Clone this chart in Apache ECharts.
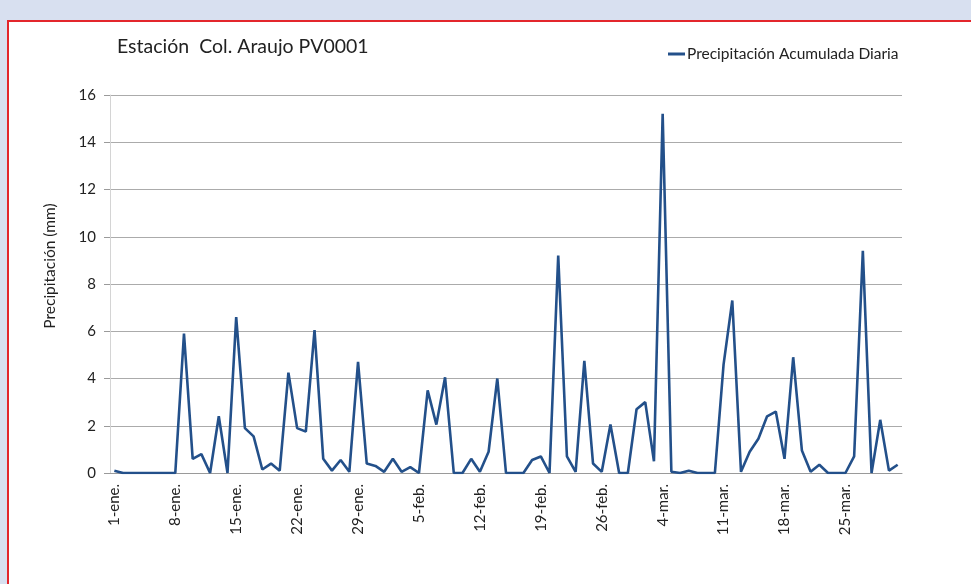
<!DOCTYPE html>
<html>
<head>
<meta charset="utf-8">
<title>Estación Col. Araujo PV0001</title>
<script src="https://cdn.jsdelivr.net/npm/echarts@6/dist/echarts.min.js"></script>
<style>
  html, body { margin: 0; padding: 0; background: #d8e0f0; }
  #frame {
    position: absolute; left: 7px; top: 20px; width: 964px; height: 564px;
    background: #fff; border-left: 2px solid #e3262c; border-top: 2px solid #e3262c;
  }
  #main { position: absolute; left: 0; top: 0; width: 971px; height: 584px; }
</style>
</head>
<body>
<div id="frame"></div>
<div id="main"></div>
<script>
// meses y días (2012, bisiesto)
var monthNames = ['ene.', 'feb.', 'mar.'];
var monthDays = [31, 29, 31];

// precipitación diaria (mm), 1-ene a 31-mar
var rainJan = [0.1, 0, 0, 0, 0, 0, 0, 0, 5.9, 0.6, 0.8, 0, 2.4, 0, 6.6, 1.9,
               1.55, 0.15, 0.4, 0.1, 4.25, 1.9, 1.75, 6.05, 0.6, 0.1, 0.55, 0.05, 4.7, 0.4, 0.3];
var rainFeb = [0.05, 0.6, 0.05, 0.25, 0, 3.5, 2.05, 4.05, 0, 0, 0.6, 0.05, 0.9, 4.0, 0,
               0, 0, 0.55, 0.7, 0, 9.2, 0.7, 0.05, 4.75, 0.4, 0.05, 2.05, 0, 0];
var rainMar = [2.7, 3.0, 0.5, 15.2, 0.05, 0, 0.1, 0, 0, 0, 4.6, 7.3, 0.05, 0.9, 1.45, 2.4,
               2.6, 0.6, 4.9, 0.95, 0.05, 0.35, 0, 0, 0, 0.7, 9.4, 0, 2.25, 0.1, 0.35];

var categories = [];
monthNames.forEach(function (m, k) {
    for (var d = 1; d <= monthDays[k]; d++) categories.push(d + '-' + m);
});
var values = rainJan.concat(rainFeb, rainMar);

var font = 'Lato, "Open Sans", sans-serif';
var chart = echarts.init(document.getElementById('main'));
chart.setOption({
    backgroundColor: 'transparent',
    animation: false,
    textStyle: { fontFamily: font, color: '#222' },
    title: {
        text: 'Estación  Col. Araujo PV0001',
        left: 112, top: 32,
        textStyle: { fontFamily: font, fontSize: 19.5, fontWeight: 'normal', color: '#222' }
    },
    legend: {
        left: 663, top: 41,
        itemWidth: 17, itemHeight: 3, itemGap: 4,
        icon: 'rect',
        textStyle: { fontFamily: font, fontSize: 15.5, color: '#222', padding: [0, 0, 0, -3] },
        data: ['Precipitación Acumulada Diaria']
    },
    graphic: [{
        type: 'text',
        x: 50, y: 266, rotation: Math.PI / 2,
        style: {
            text: 'Precipitación (mm)', fontFamily: font, fontSize: 15.5, fill: '#222',
            align: 'center', verticalAlign: 'middle'
        }
    }],
    grid: { left: 110, right: 69, top: 95, bottom: 111 },
    xAxis: {
        type: 'category',
        data: categories,
        boundaryGap: true,
        axisLine: { lineStyle: { color: '#9a9a9a', width: 1 } },
        axisTick: { interval: 6, length: 6, lineStyle: { color: '#9a9a9a' } },
        axisLabel: { interval: 6, rotate: 90, fontSize: 15, color: '#222', margin: 11, fontFamily: font }
    },
    yAxis: {
        type: 'value',
        min: 0, max: 16, interval: 2,
        axisLine: { show: true, lineStyle: { color: '#d4d4d4' } },
        axisTick: { show: true, length: 6, lineStyle: { color: '#9a9a9a' } },
        axisLabel: { fontSize: 15, color: '#222', margin: 14, fontFamily: font },
        splitLine: { lineStyle: { color: '#ababab', width: 1 } }
    },
    series: [{
        name: 'Precipitación Acumulada Diaria',
        type: 'line',
        data: values,
        showSymbol: false,
        symbol: 'none',
        lineStyle: { color: '#23508a', width: 2.6 },
        itemStyle: { color: '#23508a' }
    }]
});
</script>
</body>
</html>
